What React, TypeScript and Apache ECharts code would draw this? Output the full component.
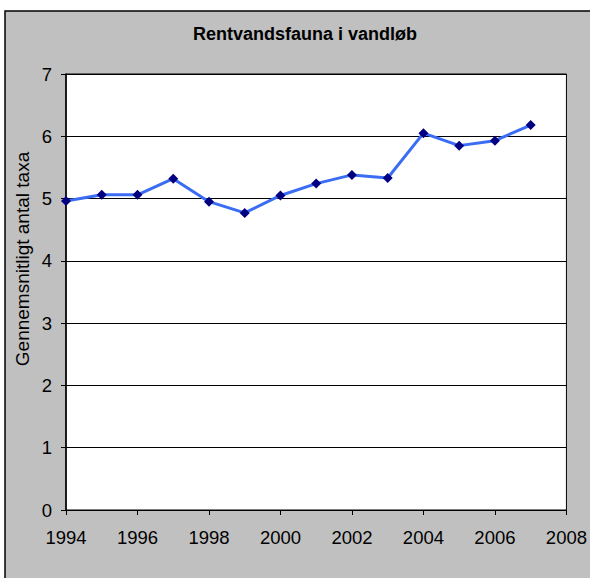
import React, { useEffect, useRef } from "react";
import * as echarts from "echarts";

const years = [1994, 1995, 1996, 1997, 1998, 1999, 2000, 2001, 2002, 2003, 2004, 2005, 2006, 2007];
const values = [4.96, 5.06, 5.06, 5.32, 4.95, 4.77, 5.05, 5.24, 5.38, 5.33, 6.05, 5.85, 5.93, 6.18];
const titleText = "Rentvandsfauna i vandløb";
const yAxisTitle = "Gennemsnitligt antal taxa";

export default function App() {
  const ref = useRef<HTMLDivElement>(null);
  useEffect(() => {
    if (!ref.current) return;
    const chart = echarts.init(ref.current, null, { renderer: "svg" });
    const font = "'Liberation Sans', Arial, sans-serif";
    chart.setOption({
      animation: false,
      backgroundColor: "#ffffff",
      graphic: [
        {
          type: "rect",
          z: -10,
          silent: true,
          shape: { x: 5, y: 11, width: 640, height: 640 },
          style: { fill: "#c0c0c0", stroke: "#000000", lineWidth: 1.5 },
        },
        {
          type: "text",
          x: 22,
          y: 259,
          rotation: Math.PI / 2,
          style: {
            text: yAxisTitle,
            font: `19px ${font}`,
            fill: "#000000",
            textAlign: "center",
            textVerticalAlign: "middle",
          },
        },
      ],
      title: {
        text: titleText,
        left: 300,
        top: 20,
        textAlign: "center",
        textStyle: { fontFamily: font, fontSize: 18, fontWeight: "bold", color: "#000000" },
      },
      grid: {
        left: 66,
        right: 23,
        top: 74,
        bottom: 68,
        show: true,
        backgroundColor: "#ffffff",
        borderColor: "#000000",
        borderWidth: 1,
      },
      xAxis: {
        type: "value",
        min: 1994,
        max: 2008,
        interval: 2,
        axisLine: { show: true, onZero: false, lineStyle: { color: "#000000", width: 1 } },
        axisTick: { show: true, inside: false, length: 5, lineStyle: { color: "#000000" } },
        axisLabel: {
          color: "#000000",
          fontSize: 18.5,
          fontFamily: font,
          margin: 18,
          formatter: (v: number) => String(v),
        },
        splitLine: { show: false },
      },
      yAxis: {
        type: "value",
        min: 0,
        max: 7,
        interval: 1,
        axisLine: { show: true, lineStyle: { color: "#000000", width: 1.5 } },
        axisTick: { show: true, inside: false, length: 5, lineStyle: { color: "#000000" } },
        axisLabel: { color: "#000000", fontSize: 18.5, fontFamily: font, margin: 14 },
        splitLine: { show: true, lineStyle: { color: "#000000", width: 1 } },
      },
      series: [
        {
          type: "line",
          data: years.map((y, i) => [y, values[i]]),
          lineStyle: { color: "#3a6cf4", width: 3 },
          itemStyle: { color: "#000080" },
          symbol: "diamond",
          symbolSize: 10,
          showSymbol: true,
        },
      ],
    });
    return () => chart.dispose();
  }, []);
  return (
    <div
      ref={ref}
      style={{ position: "fixed", left: 0, top: 0, width: 590, height: 578 }}
    />
  );
}
